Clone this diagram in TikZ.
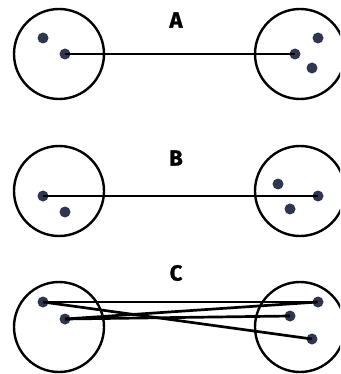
\documentclass[tikz,border=0pt]{standalone}
\usepackage{fontspec}
\setsansfont{Fira Sans}
\newfontfamily\labfont[FakeBold=1.2]{Fira Sans Bold}
\begin{document}
\begin{tikzpicture}[x=1pt,y=-1pt,
  ring/.style={circle,draw=black,line width=2.4pt,minimum size=90pt,inner sep=0pt},
  dot/.style={circle,fill=dotc,minimum size=11pt,inner sep=0pt},
  link/.style={draw=black,line width=2.7pt},
  lab/.style={font=\labfont\fontsize{22}{22}\selectfont}]
\definecolor{dotc}{HTML}{2E3650}
\useasboundingbox (0,0) rectangle (340,374);
\begin{scope}
\clip (0,0) rectangle (340,374);
% Panel A
\node[ring] (la) at (59,54) {};
\node[ring] (ra) at (300,54) {};
\node[lab] (ta) at (176,20) {A};
\node[dot] (a1) at (43,38) {};
\node[dot] (a2) at (65,54) {};
\node[dot] (a3) at (318,38) {};
\node[dot] (a4) at (295,54) {};
\node[dot] (a5) at (312,68) {};
\draw[link] (a2.center) -- (a4.center);
% Panel B
\node[ring] (lb) at (59,191) {};
\node[ring] (rb) at (300,191) {};
\node[lab] (tb) at (176,158) {B};
\node[dot] (b1) at (43,196) {};
\node[dot] (b2) at (65,212) {};
\node[dot] (b3) at (278,184) {};
\node[dot] (b4) at (318,196) {};
\node[dot] (b5) at (290,209) {};
\draw[link] (b1.center) -- (b4.center);
% Panel C
\node[ring] (lc) at (59,327) {};
\node[ring] (rc) at (300,327) {};
\node[lab] (tc) at (176,273) {C};
\node[dot] (c1) at (43,302) {};
\node[dot] (c2) at (65,319) {};
\node[dot] (c3) at (318,302) {};
\node[dot] (c4) at (290,316) {};
\node[dot] (c5) at (312,339) {};
\draw[link] (c1.center) -- (c3.center);
\draw[link] (c2.center) -- (c3.center);
\draw[link] (c2.center) -- (c4.center);
\draw[link] (c1.center) -- (c5.center);
\end{scope}
\end{tikzpicture}
\end{document}
